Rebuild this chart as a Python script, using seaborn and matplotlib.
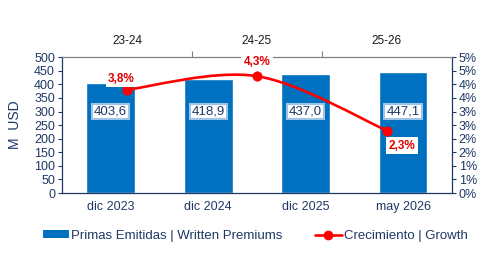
import numpy as np
import pandas as pd
import matplotlib
matplotlib.use('Agg')
import matplotlib.pyplot as plt
from matplotlib.path import Path
from matplotlib.patches import PathPatch
from matplotlib.lines import Line2D
from matplotlib.patches import Patch
from matplotlib.ticker import FuncFormatter
import seaborn as sns

# datos
periodos = ['dic 2023', 'dic 2024', 'dic 2025', 'may 2026']
primas = [403.6, 418.9, 437.0, 447.1]
tramos = ['23-24', '24-25', '25-26']
crecimiento = [3.8, 4.3, 2.3]

sns.set_style('white')
plt.rcParams['font.family'] = ['Liberation Sans', 'DejaVu Sans']

NAVY = '#1F3864'
BLUE = '#0070C0'
RED = '#FF0000'

fig = plt.figure(figsize=(5.02, 2.62), dpi=100)
ax = fig.add_axes([0.1235, 0.263, 0.7765, 0.519])

df = pd.DataFrame({'periodo': periodos, 'primas': primas})
sns.barplot(data=df, x='periodo', y='primas', color=BLUE, saturation=1,
            width=0.5, ax=ax)
ax.set_xlim(-0.5, 3.5)
ax.set_ylim(0, 500)
ax.set_yticks(np.arange(0, 501, 50))
ax.set_xlabel('')
ax.set_ylabel('M  USD', color=NAVY, fontsize=10, labelpad=9)
ax.tick_params(axis='y', colors=NAVY, labelsize=9, length=3, width=0.8, pad=2)
ax.tick_params(axis='x', colors=NAVY, labelsize=9, length=0, pad=6)
# marcas entre categorias
ax.set_xticks(np.arange(-0.5, 4, 1), minor=True)
ax.tick_params(axis='x', which='minor', length=4, width=0.8, colors=NAVY)
for s in ['left', 'bottom']:
    ax.spines[s].set_color(NAVY)
    ax.spines[s].set_linewidth(0.9)
ax.spines['top'].set_visible(False)
ax.spines['right'].set_visible(False)

# etiquetas de barras
for i, v in enumerate(primas):
    ax.text(i, 300, f'{v:.1f}'.replace('.', ','), ha='center', va='center',
            fontsize=9.5, color=NAVY,
            bbox=dict(boxstyle='square,pad=0.15', fc='white', ec='#9DC3E6', lw=1.5))

# eje derecho
ax2 = ax.twinx()
ax2.set_ylim(0, 5)
ax2.set_yticks(np.arange(0, 5.01, 0.5))
ax2.yaxis.set_major_formatter(FuncFormatter(lambda v, p: f'{int(np.floor(v + 0.5))}%'))
ax2.tick_params(axis='y', colors=NAVY, labelsize=9, length=3, width=0.8, pad=2)
for s in ['left', 'bottom', 'top']:
    ax2.spines[s].set_visible(False)
ax2.spines['right'].set_color(NAVY)
ax2.spines['right'].set_linewidth(0.9)

# eje superior
ax3 = ax2.twiny()
ax3.set_xlim(-0.5, 2.5)
ax3.set_xticks(range(len(tramos)))
ax3.set_xticklabels(tramos)
ax3.tick_params(axis='x', colors='#1a1a1a', labelsize=8.5, length=0, pad=7)
ax3.set_xticks([0.5, 1.5], minor=True)
ax3.tick_params(axis='x', which='minor', length=4, width=0.8, colors='#808080')
for s in ['left', 'bottom', 'right']:
    ax3.spines[s].set_visible(False)
ax3.spines['top'].set_color('#808080')
ax3.spines['top'].set_linewidth(0.9)

# linea suavizada (estilo Excel)
xs = np.arange(len(crecimiento), dtype=float)
ys = np.array(crecimiento, dtype=float)
pts = np.column_stack([xs, ys])
ext = np.vstack([pts[0], pts, pts[-1]])
verts = [tuple(pts[0])]
codes = [Path.MOVETO]
for i in range(len(pts) - 1):
    p0, p1, p2, p3 = ext[i], ext[i + 1], ext[i + 2], ext[i + 3]
    c1 = p1 + (p2 - p0) / 6
    c2 = p2 - (p3 - p1) / 6
    verts += [tuple(c1), tuple(c2), tuple(p2)]
    codes += [Path.CURVE4] * 3
ax3.add_patch(PathPatch(Path(verts, codes), fc='none', ec=RED, lw=1.9, zorder=3))
sns.scatterplot(x=xs, y=ys, color=RED, s=45, edgecolor=RED, zorder=4, ax=ax3, legend=False)
ax3.set_ylim(0, 5)

offsets = [(-4, 8), (0, 10), (11, -11)]
for i, v in enumerate(crecimiento):
    dx, dy = offsets[i]
    ax3.annotate(f'{v:.1f}%'.replace('.', ','), (xs[i], ys[i]), xytext=(dx, dy),
                 textcoords='offset points', ha='center', va='center',
                 fontsize=8.5, fontweight='bold', color='#E00000', zorder=5,
                 bbox=dict(boxstyle='square,pad=0.2', fc='white', ec='none'))

# leyenda
handles = [Patch(fc=BLUE, ec='none'),
           Line2D([0], [0], color=RED, lw=1.9, marker='o', ms=6)]
fig.legend(handles, ['Primas Emitidas | Written Premiums', 'Crecimiento | Growth'],
           loc='center', bbox_to_anchor=(0.508, 0.1), ncol=2, frameon=False,
           fontsize=9.5, labelcolor=NAVY, handlelength=2.0, handleheight=0.5,
           columnspacing=2.5, handletextpad=0.15)

fig.savefig('out.png', dpi=100)
